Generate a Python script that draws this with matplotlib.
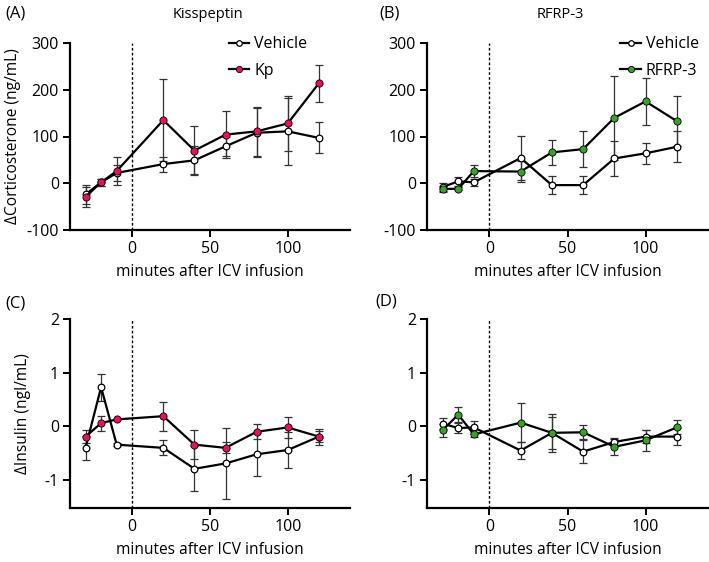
import numpy as np
import matplotlib.pyplot as plt
from matplotlib.lines import Line2D

plt.rcParams.update({
    "font.family": ["Open Sans", "DejaVu Sans"],
    "font.size": 11,
    "axes.linewidth": 1.6,
})

minutes = [-30, -20, -10, 20, 40, 60, 80, 100, 120]

# (A) corticosterone, kisspeptin experiment
cort_veh_a = [-24, 2, 22, 41, 49, 79, 108, 111, 97]
cort_veh_a_err = [20, 8, 18, 16, 30, 20, 52, 72, 33]
cort_kp = [-29, 2, 26, 135, 70, 104, 111, 128, 214]
cort_kp_err = [22, 8, 30, 87, 53, 50, 52, 58, 40]

# (B) corticosterone, RFRP-3 experiment
cort_veh_b = [-8, 4, 2, 54, -4, -4, 53, 64, 78]
cort_veh_b_err = [8, 10, 8, 48, 20, 20, 38, 23, 33]
cort_rfrp = [-12, -12, 26, 25, 66, 73, 140, 175, 133]
cort_rfrp_err = [6, 3, 12, 22, 27, 39, 90, 51, 54]

# (C) insulin, kisspeptin experiment
ins_veh_c = [-0.40, 0.73, -0.34, -0.40, -0.79, -0.69, -0.52, -0.44, -0.19]
ins_veh_c_err = [0.22, 0.25, 0.03, 0.14, 0.42, 0.66, 0.40, 0.34, 0.10]
ins_kp = [-0.19, 0.06, 0.13, 0.19, -0.34, -0.40, -0.10, -0.02, -0.19]
ins_kp_err = [0.12, 0.14, 0.0, 0.27, 0.27, 0.10, 0.14, 0.20, 0.15]

# (D) insulin, RFRP-3 experiment
ins_veh_d = [0.05, -0.03, -0.02, -0.45, -0.12, -0.47, -0.29, -0.19, -0.19]
ins_veh_d_err = [0.10, 0.10, 0.12, 0.15, 0.35, 0.22, 0.08, 0.12, 0.16]
ins_rfrp = [-0.07, 0.22, -0.15, 0.07, -0.12, -0.11, -0.38, -0.26, -0.02]
ins_rfrp_err = [0.12, 0.14, 0.05, 0.36, 0.30, 0.13, 0.15, 0.19, 0.13]

kp_color = "#e8115f"
rfrp_color = "#3aa02a"

fig = plt.figure(figsize=(7.09, 5.62), dpi=100)
W, H = 709, 562


def make_ax(left, top, right, bottom):
    return fig.add_axes([left / W, 1 - bottom / H, (right - left) / W, (bottom - top) / H])


axA = make_ax(70, 43, 350, 230)
axB = make_ax(427, 43, 708, 230)
axC = make_ax(70, 319, 350, 508)
axD = make_ax(427, 319, 708, 508)


def draw(ax, veh, veh_err, trt, trt_err, color):
    for y, e in ((veh, veh_err), (trt, trt_err)):
        ax.errorbar(minutes, y, yerr=e, fmt="none", ecolor="#333333",
                    elinewidth=0.9, capsize=3, capthick=0.9, zorder=2)
    ax.plot(minutes, veh, color="black", lw=1.6, marker="o", ms=4.8,
            mfc="white", mec="black", mew=0.9, zorder=3)
    ax.plot(minutes, trt, color="black", lw=1.6, marker="o", ms=5.2,
            mfc=color, mec="black", mew=0.6, zorder=4)
    ax.spines["top"].set_visible(False)
    ax.spines["right"].set_visible(False)
    ax.tick_params(direction="out", length=5, width=1.4, labelsize=11.5, pad=3)
    ax.set_xlim(-40, 140)
    ax.set_xticks([0, 50, 100])
    ax.set_xlabel("minutes after ICV infusion", fontsize=11.2, labelpad=5)


draw(axA, cort_veh_a, cort_veh_a_err, cort_kp, cort_kp_err, kp_color)
draw(axB, cort_veh_b, cort_veh_b_err, cort_rfrp, cort_rfrp_err, rfrp_color)
draw(axC, ins_veh_c, ins_veh_c_err, ins_kp, ins_kp_err, kp_color)
draw(axD, ins_veh_d, ins_veh_d_err, ins_rfrp, ins_rfrp_err, rfrp_color)

for ax in (axA, axB):
    ax.set_ylim(-100, 300)
    ax.set_yticks([-100, 0, 100, 200, 300])
    ax.set_yticklabels(["-100", "0", "100", "200", "300"])
for ax in (axC, axD):
    ax.set_ylim(-1.52, 2)
    ax.set_yticks([-1, 0, 1, 2])
    ax.set_yticklabels(["-1", "0", "1", "2"])
for ax in (axA, axB, axC, axD):
    ax.axvline(0, color="black", lw=1.0, ls=(0, (2, 1.5)), zorder=1)

axA.set_ylabel("ΔCorticosterone (ng/mL)", fontsize=11.2, labelpad=4)
axC.set_ylabel("ΔInsulin (ngl/mL)", fontsize=11.2, labelpad=10)


def legend(ax, color, label, anchor):
    handles = [
        Line2D([], [], color="black", lw=1.6, marker="o", ms=4, mfc="white", mec="black", mew=0.9),
        Line2D([], [], color="black", lw=1.6, marker="o", ms=4.5, mfc=color, mec="black", mew=0.6),
    ]
    ax.legend(handles, ["Vehicle", label], loc="upper right", bbox_to_anchor=anchor,
              frameon=False, fontsize=11.5, handlelength=1.3, handletextpad=0.3,
              labelspacing=0.65, borderaxespad=0.0)


legend(axA, kp_color, "Kp", (0.87, 1.07))
legend(axB, rfrp_color, "RFRP-3", (0.99, 1.07))

fig.text(5 / W, 1 - 14 / H, "(A)", fontsize=12, va="center")
fig.text(173 / W, 1 - 14 / H, "Kisspeptin", fontsize=10.5, va="center", ha="left")
fig.text(560 / W, 1 - 14 / H, "RFRP-3", fontsize=10.5, va="center", ha="center")
fig.text(379 / W, 1 - 14 / H, "(B)", fontsize=12, va="center")
fig.text(5 / W, 1 - 303 / H, "(C)", fontsize=12, va="center")
fig.text(375 / W, 1 - 302 / H, "(D)", fontsize=12, va="center")

fig.savefig("out.png", dpi=100)
